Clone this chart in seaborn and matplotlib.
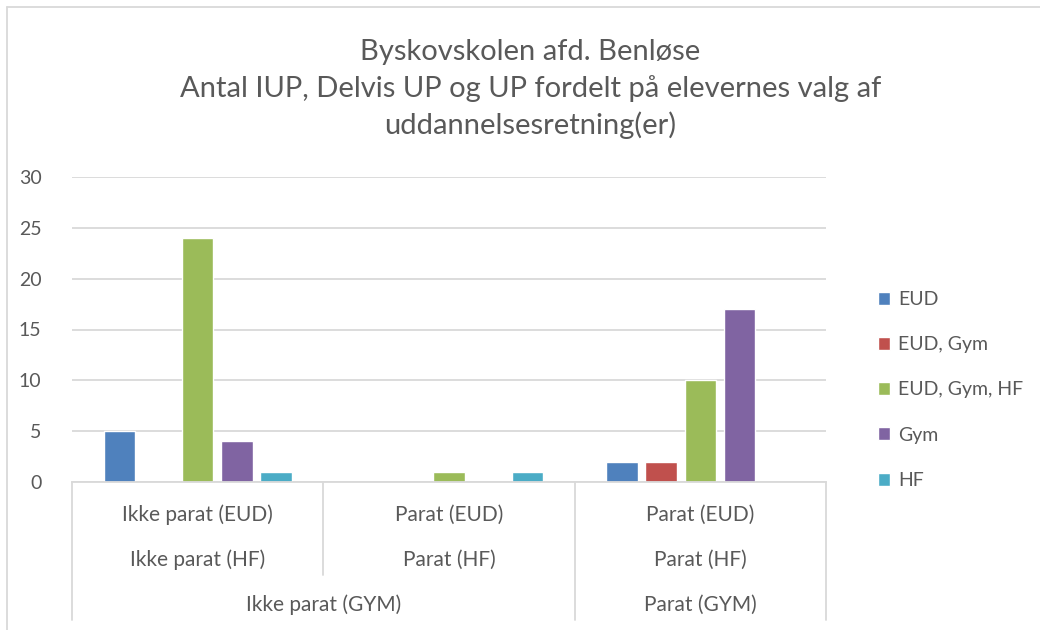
import matplotlib
matplotlib.use("Agg")
import matplotlib.pyplot as plt
from matplotlib.lines import Line2D
from matplotlib import transforms
import numpy as np
import pandas as pd
import seaborn as sns

# data
groups = ["g1", "g2", "g3"]
level1 = ["Ikke parat (EUD)", "Parat (EUD)", "Parat (EUD)"]
level2 = ["Ikke parat (HF)", "Parat (HF)", "Parat (HF)"]
level3 = ["Ikke parat (GYM)", "Parat (GYM)"]
series = ["EUD", "EUD, Gym", "EUD, Gym, HF", "Gym", "HF"]
eud = [5, np.nan, 2]
eud_gym = [np.nan, np.nan, 2]
eud_gym_hf = [24, 1, 10]
gym = [4, np.nan, 17]
hf = [1, 1, np.nan]
colors = ["#4F81BD", "#C0504D", "#9BBB59", "#8064A2", "#4BACC6"]

rows = []
for name, vals in zip(series, [eud, eud_gym, eud_gym_hf, gym, hf]):
    for g, v in zip(groups, vals):
        rows.append({"group": g, "serie": name, "antal": v})
df = pd.DataFrame(rows)

sns.set_theme(style="white")
plt.rcParams["font.family"] = ["Lato", "DejaVu Sans"]
txt = "#595959"
grid = "#d9d9d9"

fig = plt.figure(figsize=(10.4, 6.3), dpi=100)
ax = fig.add_axes([72 / 1040, 148 / 630, 754 / 1040, 305 / 630])

sns.barplot(data=df.dropna(), x="group", y="antal", hue="serie", order=groups,
            hue_order=series, palette=colors, width=0.78, gap=0.2,
            saturation=1, ax=ax, legend=True)

ax.set_xlim(-0.5, 2.5)
ax.set_ylim(0, 30)
ax.set_yticks(range(0, 31, 5))
ax.yaxis.grid(True, color=grid, linewidth=1.3)
ax.set_axisbelow(True)
for s in ["top", "right", "left"]:
    ax.spines[s].set_visible(False)
ax.spines["bottom"].set_color(grid)
ax.spines["bottom"].set_linewidth(1.3)
ax.tick_params(axis="y", length=0, labelsize=14, labelcolor=txt, pad=22)
ax.set_xticks([])
ax.set_xlabel("")
ax.set_ylabel("")

# multi level category axis
trans = transforms.blended_transform_factory(ax.transData, fig.transFigure)
def fy(px):
    return 1 - px / 630
for i in range(3):
    ax.text(i, fy(515), level1[i], transform=trans, ha="center", va="center",
            fontsize=15, color=txt)
    ax.text(i, fy(560), level2[i], transform=trans, ha="center", va="center",
            fontsize=15, color=txt)
ax.text(0.5, fy(605), level3[0], transform=trans, ha="center", va="center",
        fontsize=15, color=txt)
ax.text(2, fy(605), level3[1], transform=trans, ha="center", va="center",
        fontsize=15, color=txt)
for x, bottom in [(-0.5, 620), (0.5, 575), (1.5, 620), (2.5, 620)]:
    ax.add_line(Line2D([x, x], [fy(482), fy(bottom)], transform=trans,
                       color=grid, linewidth=1.3, clip_on=False))

# chart frame (top and left visible)
fig.add_artist(Line2D([7 / 1040, 1], [fy(7), fy(7)], color=grid, linewidth=1.3))
fig.add_artist(Line2D([7 / 1040, 7 / 1040], [0, fy(7)], color=grid, linewidth=1.3))

fig.text(0.51, fy(89), "Byskovskolen afd. Benløse\nAntal IUP, Delvis UP og UP fordelt på elevernes valg af\nuddannelsesretning(er)",
         ha="center", va="center", fontsize=21, color=txt, linespacing=1.42)

leg = ax.legend(loc="center left", bbox_to_anchor=(860 / 1040, fy(390)),
                bbox_transform=fig.transFigure, frameon=False, fontsize=14,
                labelcolor=txt, handlelength=0.65, handleheight=0.65,
                handletextpad=0.4, labelspacing=1.45)

fig.savefig("out.png", dpi=100)
